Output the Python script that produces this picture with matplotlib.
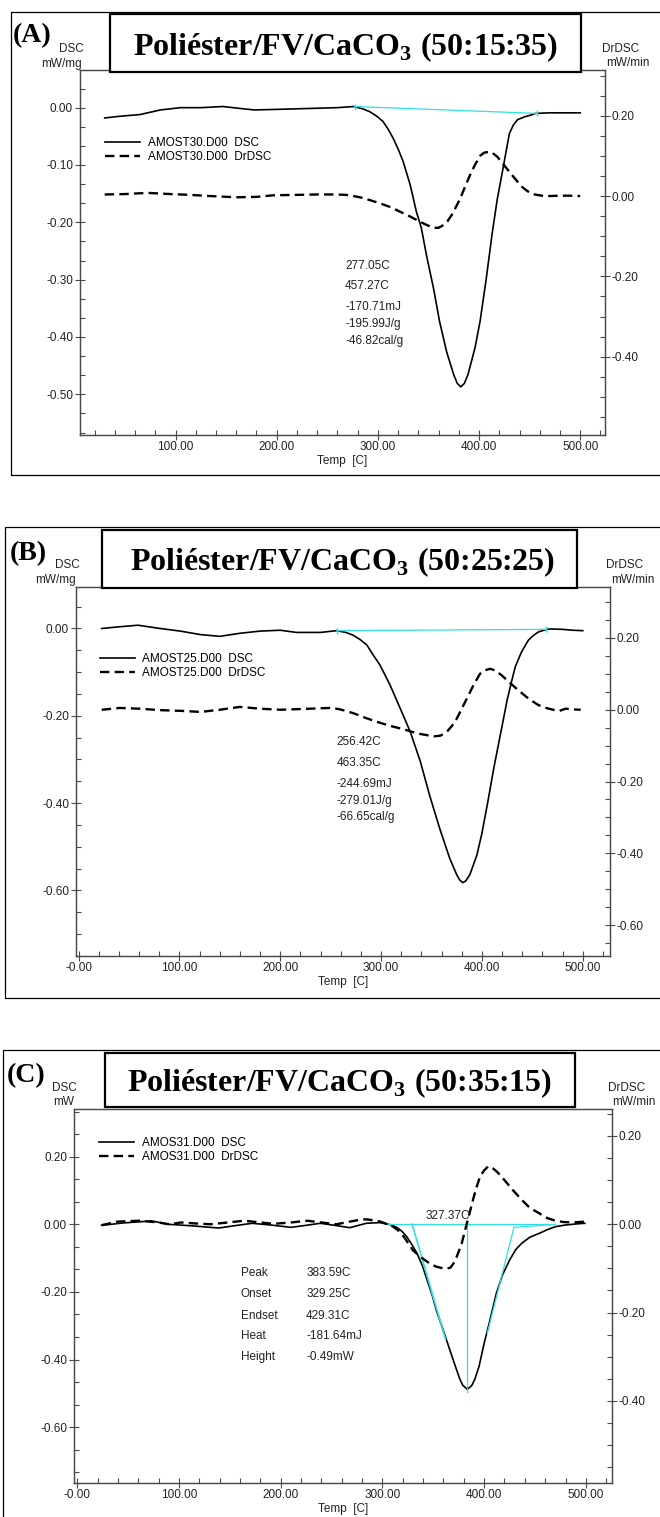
import matplotlib
matplotlib.use("Agg")
import matplotlib.pyplot as plt
from matplotlib.patches import Rectangle
from matplotlib.ticker import MultipleLocator, FixedLocator, FixedFormatter

plt.rcParams['font.family'] = ['Liberation Sans', 'DejaVu Sans']
plt.rcParams['mathtext.fontset'] = 'custom'
plt.rcParams['mathtext.rm'] = 'Liberation Serif:bold'
plt.rcParams['mathtext.bf'] = 'Liberation Serif:bold'

W, H = 660, 1517

# ---------------- Panel A : 50:15:35 ----------------
a_dsc_x = [30, 45, 65, 85, 105, 125, 147, 162, 178, 200, 220, 240, 260, 276, 285, 292, 299, 305, 310,
           315, 320, 325, 332, 338, 343, 348, 355, 361, 368, 375, 378.5, 382, 385.5, 389, 396, 401, 407,
           413, 418, 424, 430, 434, 438, 445, 451, 456, 470, 485, 500]
a_dsc_y = [-0.018, -0.015, -0.012, -0.004, 0.000, 0.000, 0.002, -0.001, -0.004, -0.003, -0.002, -0.001,
           0.000, 0.002, -0.002, -0.007, -0.015, -0.024, -0.037, -0.053, -0.072, -0.094, -0.135, -0.181,
           -0.210, -0.257, -0.315, -0.373, -0.426, -0.466, -0.481, -0.487, -0.481, -0.466, -0.419, -0.373,
           -0.300, -0.219, -0.160, -0.103, -0.045, -0.030, -0.021, -0.016, -0.013, -0.010, -0.009, -0.009,
           -0.009]
a_dr_x = [30, 50, 72, 95, 114, 135, 160, 180, 197, 220, 240, 259, 269, 276, 284, 292, 302, 312, 322, 332,
          338, 345, 350, 355, 360, 365, 369, 373, 377, 381, 386, 391, 396, 401, 405, 409, 413, 418, 426,
          434, 442, 448, 455, 462, 468, 480, 490, 500]
a_dr_y = [0.004, 0.005, 0.008, 0.005, 0.003, 0.000, -0.003, -0.002, 0.002, 0.003, 0.004, 0.004, 0.003,
          0.000, -0.004, -0.010, -0.018, -0.027, -0.039, -0.051, -0.059, -0.068, -0.074, -0.079, -0.079,
          -0.072, -0.062, -0.047, -0.028, -0.008, 0.022, 0.052, 0.078, 0.100, 0.108, 0.110, 0.108, 0.098,
          0.073, 0.048, 0.024, 0.012, 0.004, 0.001, 0.000, 0.001, 0.001, 0.000]
a_base_x = [277.05, 457.27]
a_base_y = [0.002, -0.010]
a_notes = ['277.05C', '457.27C', '-170.71mJ', '-195.99J/g', '-46.82cal/g']
a_notes_y = [-0.2756, -0.3105, -0.3482, -0.3773, -0.4064]
a_xticks = [100, 200, 300, 400, 500]
a_xlabels = ['100.00', '200.00', '300.00', '400.00', '500.00']
a_lticks = [0.0, -0.1, -0.2, -0.3, -0.4, -0.5]
a_llabels = ['0.00', '-0.10', '-0.20', '-0.30', '-0.40', '-0.50']
a_rticks = [0.2, 0.0, -0.2, -0.4]
a_rlabels = ['0.20', '0.00', '-0.20', '-0.40']

# ---------------- Panel B : 50:25:25 ----------------
b_dsc_x = [23, 41, 59, 81, 101, 121, 140, 160, 180, 200, 216, 240, 256, 265, 272, 279, 286, 292, 299,
           309, 319, 329, 339, 348, 358, 368, 375, 378, 381, 384, 388, 395, 400, 406, 412, 419, 425, 429,
           433, 439, 446, 451, 456, 464, 469, 480, 490, 500]
b_dsc_y = [0.000, 0.004, 0.0075, 0.000, -0.006, -0.014, -0.018, -0.011, -0.006, -0.004, -0.009, -0.009,
           -0.005, -0.009, -0.015, -0.025, -0.038, -0.060, -0.084, -0.130, -0.183, -0.237, -0.305, -0.381,
           -0.457, -0.526, -0.564, -0.576, -0.582, -0.578, -0.564, -0.519, -0.469, -0.395, -0.317, -0.235,
           -0.164, -0.125, -0.088, -0.055, -0.027, -0.016, -0.008, -0.002, -0.001, -0.002, -0.004, -0.005]
b_dr_x = [23, 41, 60, 81, 101, 121, 140, 160, 180, 200, 230, 249, 258, 266, 274, 282, 292, 302, 312, 322,
          330, 338, 346, 353, 359, 365, 370, 375, 380, 385, 391, 398, 403, 408, 413, 420, 427, 435, 444,
          450, 456, 465, 472, 477, 483, 490, 498]
b_dr_y = [0.000, 0.005, 0.003, -0.001, -0.003, -0.006, 0.000, 0.008, 0.003, 0.000, 0.003, 0.005, 0.002,
          -0.004, -0.011, -0.020, -0.030, -0.039, -0.047, -0.054, -0.061, -0.067, -0.071, -0.074, -0.072,
          -0.062, -0.046, -0.025, 0.003, 0.031, 0.065, 0.100, 0.110, 0.114, 0.110, 0.095, 0.077, 0.057,
          0.036, 0.024, 0.013, 0.004, -0.001, -0.003, 0.003, 0.001, 0.000]
b_base_x = [256.42, 463.35]
b_base_y = [-0.005, -0.002]
b_notes = ['256.42C', '463.35C', '-244.69mJ', '-279.01J/g', '-66.65cal/g']
b_notes_y = [-0.259, -0.307, -0.356, -0.394, -0.432]
b_xticks = [0, 100, 200, 300, 400, 500]
b_xlabels = ['-0.00', '100.00', '200.00', '300.00', '400.00', '500.00']
b_lticks = [0.0, -0.2, -0.4, -0.6]
b_llabels = ['0.00', '-0.20', '-0.40', '-0.60']
b_rticks = [0.2, 0.0, -0.2, -0.4, -0.6]
b_rlabels = ['0.20', '0.00', '-0.20', '-0.40', '-0.60']

# ---------------- Panel C : 50:35:15 ----------------
c_dsc_x = [24, 45, 73, 90, 115, 139, 155, 172, 190, 210, 225, 239, 253, 268, 284, 297, 301, 309, 314,
           319, 324, 329, 334, 339, 344, 349, 353, 358, 363, 368, 373, 376, 379, 383.5, 388, 391, 395, 400,
           406, 412, 418, 425, 431, 437, 445, 454, 462, 470, 480, 490, 499]
c_dsc_y = [-0.003, 0.004, 0.010, 0.000, -0.005, -0.011, -0.004, 0.003, -0.002, -0.009, -0.003, 0.003,
           -0.003, -0.010, 0.003, 0.005, 0.003, -0.002, -0.009, -0.020, -0.037, -0.060, -0.086, -0.120,
           -0.165, -0.210, -0.254, -0.298, -0.342, -0.387, -0.431, -0.457, -0.476, -0.488, -0.476, -0.457,
           -0.420, -0.352, -0.280, -0.204, -0.150, -0.106, -0.075, -0.056, -0.038, -0.027, -0.016, -0.007,
           -0.002, 0.001, 0.003]
c_dr_x = [24, 40, 61, 80, 90, 102, 115, 131, 148, 164, 180, 193, 210, 226, 240, 255, 268, 280, 285, 293,
          298, 305, 311, 316, 321, 326, 330, 337, 344, 349, 353, 358, 363, 367, 371, 375, 378, 380, 383,
          386, 389, 392, 396, 400, 404, 408, 413, 420, 428, 437, 445, 454, 462, 470, 478, 487, 499]
c_dr_y = [-0.002, 0.006, 0.008, 0.004, 0.000, 0.004, 0.002, 0.000, 0.004, 0.008, 0.004, 0.001, 0.004,
          0.008, 0.004, 0.000, 0.006, 0.011, 0.011, 0.008, 0.006, 0.000, -0.006, -0.015, -0.028, -0.045,
          -0.059, -0.073, -0.085, -0.092, -0.096, -0.099, -0.101, -0.098, -0.085, -0.062, -0.043, -0.025,
          0.002, 0.028, 0.055, 0.080, 0.108, 0.122, 0.131, 0.128, 0.118, 0.100, 0.078, 0.055, 0.037, 0.025,
          0.014, 0.008, 0.005, 0.004, 0.006]
c_peak, c_onset, c_endset, c_height = 383.59, 329.25, 429.31, -0.49
c_base_x = [305, 470]
c_onset_line_x = [329.25, 362]
c_onset_line_y = [0.0, -0.34]
c_endset_line_x = [470, 429.31, 403]
c_endset_line_y = [0.0, -0.009, -0.323]
c_note_names = ['Peak', 'Onset', 'Endset', 'Heat', 'Height']
c_note_vals = ['383.59C', '329.25C', '429.31C', '-181.64mJ', '-0.49mW']
c_notes_y = [-0.145, -0.206, -0.270, -0.330, -0.392]
c_xticks = b_xticks
c_xlabels = b_xlabels
c_lticks = [0.2, 0.0, -0.2, -0.4, -0.6]
c_llabels = ['0.20', '0.00', '-0.20', '-0.40', '-0.60']
c_rticks = [0.2, 0.0, -0.2, -0.4]
c_rlabels = ['0.20', '0.00', '-0.20', '-0.40']

CYAN = '#2fe0e6'
GRAY = '#4a4a4a'
TXT = '#222222'
FS = 8.5

fig = plt.figure(figsize=(W / 100, H / 100), dpi=100)


def fx(x):
    return x / W


def fy(y):
    return 1 - y / H


def box(x0, y0, x1, y1, lw, z=5):
    r = Rectangle((fx(x0), fy(y1)), fx(x1) - fx(x0), fy(y0) - fy(y1), transform=fig.transFigure,
                  facecolor='none' if z < 5 else 'white', edgecolor='black', lw=lw, zorder=z)
    fig.add_artist(r)


def setup(ax, ax2, xlim, ylim, rlim, xt, xl, lt, ll, rt, rl, lminor, rminor):
    ax.set_xlim(*xlim)
    ax.set_ylim(*ylim)
    ax2.set_ylim(*rlim)
    ax.xaxis.set_major_locator(FixedLocator(xt))
    ax.xaxis.set_major_formatter(FixedFormatter(xl))
    ax.xaxis.set_minor_locator(MultipleLocator(20))
    ax.yaxis.set_major_locator(FixedLocator(lt))
    ax.yaxis.set_major_formatter(FixedFormatter(ll))
    ax.yaxis.set_minor_locator(MultipleLocator(lminor))
    ax2.yaxis.set_major_locator(FixedLocator(rt))
    ax2.yaxis.set_major_formatter(FixedFormatter(rl))
    ax2.yaxis.set_minor_locator(MultipleLocator(rminor))
    for a in (ax, ax2):
        for s in a.spines.values():
            s.set_color(GRAY)
            s.set_linewidth(0.9)
        a.tick_params(which='major', direction='inout', length=7, width=0.8, color=GRAY,
                      labelsize=FS, labelcolor=TXT, pad=1.5)
        a.tick_params(which='minor', direction='in', length=3.5, width=0.8, color=GRAY)
    ax.tick_params(axis='x', pad=1)
    ax.set_xlabel('Temp  [C]', fontsize=FS, labelpad=1.5, color=TXT)


def panel(ax_rect, xlim, ylim, rlim, dsc, dr, label, title, title_box, title_xy,
          letter_xy, unit_l, unit_pos, legend_xy, names, ticks, minors, outer):
    x0, y0, x1, y1 = ax_rect
    ax = fig.add_axes([fx(x0), fy(y1), fx(x1) - fx(x0), fy(y0) - fy(y1)])
    ax2 = ax.twinx()
    setup(ax, ax2, xlim, ylim, rlim, *ticks, *minors)
    l1, = ax.plot(dsc[0], dsc[1], color='black', lw=1.2)
    l2, = ax2.plot(dr[0], dr[1], color='black', lw=1.7, dashes=(4, 2.2))
    ax2.legend([l1, l2], names, loc='upper left', bbox_to_anchor=(fx(legend_xy[0]), fy(legend_xy[1])),
               bbox_transform=fig.transFigure, frameon=False, borderpad=0, borderaxespad=0,
               handlelength=3.0, handletextpad=0.6, labelspacing=0.18, fontsize=FS)
    # outer frame and title box
    box(*outer, lw=0.9, z=1)
    box(*title_box, lw=1.6, z=5)
    fig.text(fx(title_xy[0]), fy(title_xy[1]), title, fontsize=23, family='Liberation Serif',
             weight='bold', ha='center', va='baseline', zorder=6)
    fig.text(fx(letter_xy[0]), fy(letter_xy[1]), label, fontsize=20, family='Liberation Serif',
             weight='bold', ha='left', va='baseline', zorder=6)
    fig.text(fx(unit_pos[0]), fy(unit_pos[1]), 'DSC', fontsize=FS, ha='left', va='center', color=TXT)
    fig.text(fx(unit_pos[2]), fy(unit_pos[3]), unit_l, fontsize=FS, ha='right', va='center', color=TXT)
    fig.text(fx(unit_pos[4]), fy(unit_pos[1]), 'DrDSC', fontsize=FS, ha='left', va='center', color=TXT)
    fig.text(fx(unit_pos[5]), fy(unit_pos[3]), 'mW/min', fontsize=FS, ha='left', va='center', color=TXT)
    return ax, ax2


# Panel A
axA, axA2 = panel((80, 70, 605, 435), (5.6, 524.5), (-0.571, 0.0657), (-0.595, 0.314),
                  (a_dsc_x, a_dsc_y), (a_dr_x, a_dr_y), '(A)',
                  r'Poliéster/FV/CaCO$_\mathbf{3}$ (50:15:35)', (110, 14, 581, 72), (345.5, 55),
                  (12.5, 42), 'mW/mg', (59, 49, 82, 63.5, 602, 606), (105, 137),
                  ['AMOST30.D00  DSC', 'AMOST30.D00  DrDSC'],
                  (a_xticks, a_xlabels, a_lticks, a_llabels, a_rticks, a_rlabels), (0.1 / 3, 0.05),
                  (11.4, 12, 665, 475))
axA.plot(a_base_x, a_base_y, color=CYAN, lw=0.9, marker='|', markersize=5)
for t, yv in zip(a_notes, a_notes_y):
    axA.text(267.6, yv, t, fontsize=FS, va='center', color=TXT)

# Panel B
axB, axB2 = panel((76, 587, 610, 956), (-2.5, 527), (-0.75, 0.095), (-0.686, 0.342),
                  (b_dsc_x, b_dsc_y), (b_dr_x, b_dr_y), '(B)',
                  r'Poliéster/FV/CaCO$_\mathbf{3}$ (50:25:25)', (102, 530, 577, 588), (343, 570.7),
                  (10, 560), 'mW/mg', (54.7, 565, 76, 580, 606, 611), (100, 653),
                  ['AMOST25.D00  DSC', 'AMOST25.D00  DrDSC'],
                  (b_xticks, b_xlabels, b_lticks, b_llabels, b_rticks, b_rlabels), (0.05, 0.05),
                  (5, 526.7, 665, 998.3))
axB.plot(b_base_x, b_base_y, color=CYAN, lw=0.9, marker='|', markersize=5)
for t, yv in zip(b_notes, b_notes_y):
    axB.text(255.9, yv, t, fontsize=FS, va='center', color=TXT)

# Panel C
axC, axC2 = panel((74, 1109, 612, 1483), (-3.2, 525.7), (-0.765, 0.341), (-0.586, 0.261),
                  (c_dsc_x, c_dsc_y), (c_dr_x, c_dr_y), '(C)',
                  r'Poliéster/FV/CaCO$_\mathbf{3}$ (50:35:15)', (105, 1053, 575, 1107), (339.5, 1091.7),
                  (7, 1081.7), 'mW', (51.8, 1087.7, 74, 1101.7, 608, 612), (99, 1137),
                  ['AMOS31.D00  DSC', 'AMOS31.D00  DrDSC'],
                  (c_xticks, c_xlabels, c_lticks, c_llabels, c_rticks, c_rlabels), (0.2 / 3, 0.05),
                  (3.4, 1050, 665, 1530))
axC.plot(c_base_x, [0, 0], color=CYAN, lw=0.9)
axC.plot([c_peak, c_peak], [0, c_height - 0.005], color=CYAN, lw=0.9)
axC.plot(c_onset_line_x, c_onset_line_y, color=CYAN, lw=1.2)
axC.plot(c_endset_line_x, c_endset_line_y, color=CYAN, lw=0.9)
axC.text(386, 0.006, '327.37C', fontsize=FS, ha='right', va='bottom', color=TXT)
for n, v, yv in zip(c_note_names, c_note_vals, c_notes_y):
    axC.text(160.8, yv, n, fontsize=FS, va='center', color=TXT)
    axC.text(225, yv, v, fontsize=FS, va='center', color=TXT)

fig.savefig('out.png', dpi=100)
